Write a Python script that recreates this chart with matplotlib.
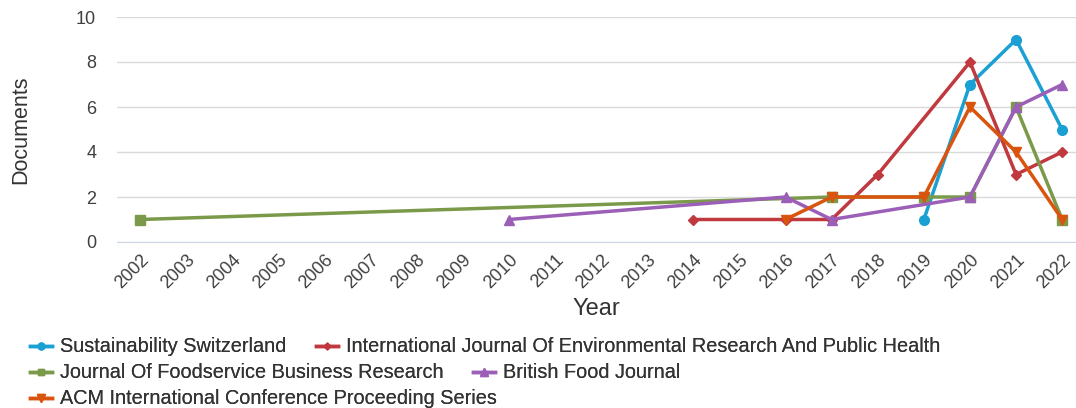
import matplotlib.pyplot as plt
import numpy as np

plt.rcParams['font.family'] = ['Liberation Sans', 'DejaVu Sans']

years_all = list(range(2002, 2023))

sust_years = [2019, 2020, 2021, 2022]
sust_docs = [1, 7, 9, 5]
ijerph_years = [2014, 2016, 2017, 2018, 2020, 2021, 2022]
ijerph_docs = [1, 1, 1, 3, 8, 3, 4]
jfbr_years = [2002, 2017, 2019, 2020, 2021, 2022]
jfbr_docs = [1, 2, 2, 2, 6, 1]
bfj_years = [2010, 2016, 2017, 2020, 2021, 2022]
bfj_docs = [1, 2, 1, 2, 6, 7]
acm_years = [2016, 2017, 2019, 2020, 2021, 2022]
acm_docs = [1, 2, 2, 6, 4, 1]

names = ["Sustainability Switzerland",
         "International Journal Of Environmental Research And Public Health",
         "Journal Of Foodservice Business Research",
         "British Food Journal",
         "ACM International Conference Proceeding Series"]
colors = ["#1aa0d2", "#c0393f", "#7a9a4a", "#9b5fb8", "#d9540e"]
markers = ["o", "D", "s", "^", "v"]
msizes = [7, 5, 7, 7.5, 7.5]

series = [(sust_years, sust_docs), (ijerph_years, ijerph_docs), (jfbr_years, jfbr_docs),
          (bfj_years, bfj_docs), (acm_years, acm_docs)]

fig = plt.figure(figsize=(10.76, 4.08), dpi=100)
ax = fig.add_axes([117/1076, 1-242/408, (1076-117)/1076, 225/408])

# green first so the rest sit on top
order = [2, 3, 1, 0, 4]
handles = [None]*5
for i in order:
    x, y = series[i]
    h, = ax.plot(x, y, color=colors[i], marker=markers[i], markersize=msizes[i],
                 linewidth=2.5, label=names[i], zorder=3+i)
    handles[i] = h

ax.set_xlim(2001.5, 2022.3)
ax.set_ylim(0, 10)
ax.set_yticks([0, 2, 4, 6, 8, 10])
ax.set_xticks(years_all)
ax.set_xticklabels([str(y) for y in years_all], rotation=45, ha='right', rotation_mode='anchor')
ax.tick_params(axis='both', length=0, labelsize=13, colors='#404040')
ax.tick_params(axis='y', pad=15)
ax.tick_params(axis='x', pad=7)
ax.grid(axis='y', color='#dadada', linewidth=1)
ax.set_axisbelow(True)
for s in ['top', 'right', 'left']:
    ax.spines[s].set_visible(False)
ax.spines['bottom'].set_color('#cfd6e6')
ax.set_xlabel("Year", fontsize=17, color='#333333', labelpad=4)
ax.set_ylabel("Documents", fontsize=15.5, color='#333333', labelpad=32)

rows = [[0, 1], [2, 3], [4]]
ys = [347, 373, 399]
for r, yy in zip(rows, ys):
    leg = fig.legend([handles[i] for i in r], [names[i] for i in r], ncol=len(r),
                     loc='center left', bbox_to_anchor=(30/1076, 1-yy/408),
                     frameon=False, fontsize=14.3, handlelength=1.1, handletextpad=0.4,
                     columnspacing=1.5, borderaxespad=0, borderpad=0, markerscale=0.7)
    for t in leg.get_texts():
        t.set_color('#333333')
    fig.add_artist(leg)

fig.savefig("out.png", dpi=100)
